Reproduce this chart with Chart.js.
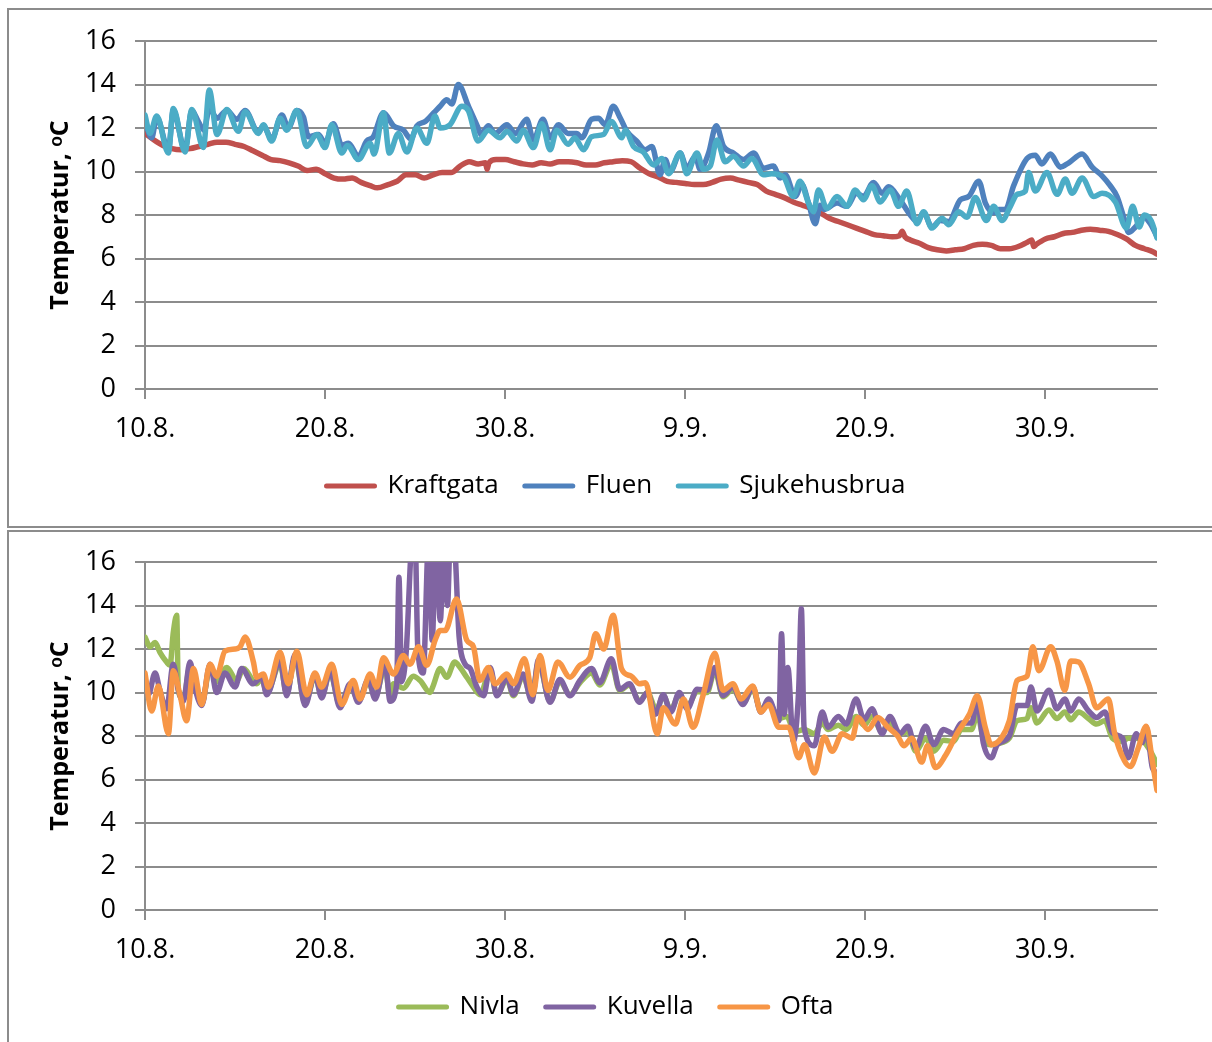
<!DOCTYPE html>
<html>
<head>
<meta charset="utf-8">
<title>Temperatur</title>
<script src="https://cdn.jsdelivr.net/npm/chart.js@4.4.1/dist/chart.umd.min.js"></script>
<style>
	html, body { margin: 0; background: #fff; overflow: hidden; width: 1212px; height: 1042px; }
	.frame { position: absolute; border: 2px solid #8c8c8c; }
	#frameTop { left: 7px; top: 8px; width: 1240px; height: 516px; }
	#frameBottom { left: 7px; top: 530px; width: 1240px; height: 600px; }
	canvas { position: absolute; left: 0; }
	#chartTop { top: 0; }
	#chartBottom { top: 521px; }
</style>
</head>
<body>
<div class="frame" id="frameTop"></div>
<div class="frame" id="frameBottom"></div>
<canvas id="chartTop" width="1232" height="509"></canvas>
<canvas id="chartBottom" width="1232" height="509"></canvas>
<script>
(function () {
	'use strict';

	// x = days after 10.8., labels placed every 10 days
	var tickDays = [0, 10, 20, 30, 40, 50];
	var tickDates = ['10.8.', '20.8.', '30.8.', '9.9.', '20.9.', '30.9.'];
	var seriesNamesTop = ['Kraftgata', 'Fluen', 'Sjukehusbrua'];
	var seriesNamesBottom = ['Nivla', 'Kuvella', 'Ofta'];

	// [day, temperature]
	var kraftgata = [
		[0, 11.75], [0.5, 11.45], [1, 11.2], [1.5, 11.05], [2, 11.0], [2.5, 11.05], [3, 11.15], [3.5, 11.25],
		[4, 11.35], [4.5, 11.35], [5, 11.25], [5.5, 11.15], [6, 10.95], [6.5, 10.75], [7, 10.55], [7.5, 10.5],
		[8, 10.4], [8.5, 10.25], [9, 10.05], [9.5, 10.1], [10, 9.9], [10.5, 9.7], [11, 9.65], [11.5, 9.7],
		[12, 9.5], [12.5, 9.35], [12.9, 9.25], [13.5, 9.4], [14, 9.55], [14.5, 9.85], [15, 9.85], [15.5, 9.7],
		[16, 9.85], [16.5, 9.95], [17, 9.95], [17.5, 10.25], [18, 10.45], [18.5, 10.35], [18.9, 10.4], [19.0, 10.1],
		[19.1, 10.4], [19.5, 10.55], [20, 10.55], [20.5, 10.45], [21, 10.35], [21.5, 10.3], [22, 10.4], [22.5, 10.35],
		[23, 10.45], [23.5, 10.45], [24, 10.4], [24.5, 10.3], [25, 10.3], [25.5, 10.4], [26, 10.45], [26.5, 10.5],
		[27, 10.45], [27.5, 10.15], [28, 9.9], [28.5, 9.75], [29, 9.55], [29.5, 9.5], [30, 9.45], [30.5, 9.4],
		[31, 9.4], [31.5, 9.5], [32, 9.65], [32.5, 9.7], [33, 9.6], [33.5, 9.5], [34, 9.4], [34.5, 9.1],
		[35, 8.95], [35.5, 8.8], [36, 8.6], [36.5, 8.45], [37, 8.3], [37.5, 8.1], [38, 7.85], [38.5, 7.7],
		[39, 7.55], [39.5, 7.4], [40, 7.25], [40.5, 7.1], [41, 7.05], [41.5, 7.0], [41.9, 7.05], [42.05, 7.25],
		[42.2, 7.0], [42.5, 6.85], [43, 6.7], [43.5, 6.5], [44, 6.4], [44.5, 6.35], [45, 6.4], [45.5, 6.45],
		[46, 6.6], [46.5, 6.65], [47, 6.6], [47.5, 6.45], [48, 6.45], [48.5, 6.55], [49, 6.75], [49.25, 6.85],
		[49.35, 6.55], [49.5, 6.65], [50, 6.9], [50.5, 7.0], [51, 7.15], [51.5, 7.2], [52, 7.3], [52.5, 7.35],
		[53, 7.3], [53.5, 7.25], [54, 7.1], [54.5, 6.9], [55, 6.6], [55.5, 6.45], [56, 6.3], [56.2, 6.2]
	];

	var fluen = [
		[0, 12.3], [0.37, 11.55], [0.65, 12.5], [1.3, 11.0], [1.57, 12.8], [2.22, 11.0], [2.6, 12.8], [2.96, 12.3],
		[3.28, 11.9], [3.57, 12.9], [4.0, 12.45], [4.54, 12.8], [5.1, 12.4], [5.56, 12.8], [6.3, 11.8], [6.57, 12.1],
		[7.04, 11.5], [7.6, 12.6], [7.96, 12.0], [8.43, 12.8], [8.8, 12.5], [9.07, 11.6], [9.63, 11.7], [10.0, 11.3],
		[10.46, 12.2], [10.93, 11.2], [11.3, 11.3], [11.85, 10.7], [12.31, 11.4], [12.68, 11.6], [13.24, 12.7], [13.8, 12.1],
		[14.35, 11.9], [14.76, 11.5], [15.1, 12.1], [15.56, 12.3], [16.04, 12.7], [16.39, 13.0], [16.76, 13.3], [17.04, 13.1],
		[17.4, 14.0], [17.96, 13.0], [18.5, 12.0], [18.65, 11.7], [19.07, 12.1], [19.44, 11.75], [20.1, 12.15], [20.56, 11.75],
		[21.2, 12.4], [21.57, 11.45], [22.1, 12.4], [22.5, 11.55], [22.96, 12.15], [23.5, 11.75], [23.98, 11.75], [24.26, 11.55],
		[24.8, 12.4], [25.18, 12.45], [25.56, 12.15], [26.0, 13.0], [26.4, 12.45], [26.76, 11.85], [27.3, 11.4], [27.78, 11.0],
		[28.15, 11.15], [28.6, 9.85], [28.89, 10.55], [29.17, 10.0], [29.72, 10.85], [30.09, 10.15], [30.56, 10.7], [30.83, 10.1],
		[31.3, 10.85], [31.72, 12.1], [32.13, 11.15], [32.68, 10.85], [33.24, 10.55], [33.8, 10.85], [34.35, 10.15], [34.9, 10.25],
		[35.28, 9.7], [35.56, 9.85], [36.11, 8.85], [36.48, 9.4], [36.85, 8.55], [37.22, 7.6], [37.5, 8.45], [37.7, 8.25],
		[38.43, 8.55], [38.98, 8.4], [39.5, 9.0], [39.9, 8.85], [40.46, 9.5], [40.93, 9.0], [41.3, 9.3], [41.85, 8.8],
		[42.5, 8.0], [42.87, 7.7], [43.24, 8.1], [43.7, 7.45], [44.17, 7.75], [44.63, 7.7], [45.28, 8.7], [45.74, 8.85],
		[46.3, 9.55], [46.67, 8.55], [47.13, 8.1], [47.41, 8.25], [47.78, 8.25], [48.24, 9.35], [48.98, 10.6], [49.44, 10.75],
		[49.8, 10.35], [50.28, 10.8], [50.83, 10.2], [51.3, 10.4], [52.04, 10.8], [52.6, 10.2], [53.15, 9.8], [53.6, 9.35],
		[53.98, 8.85], [54.35, 7.9], [54.63, 7.2], [55.0, 7.45], [55.46, 7.9], [55.83, 7.6], [56.2, 7.0]
	];

	var sjukehusbrua = [
		[0, 12.6], [0.28, 11.75], [0.65, 12.55], [1.3, 10.85], [1.57, 12.9], [2.22, 10.9], [2.6, 12.85], [3.24, 11.1],
		[3.57, 13.75], [4.0, 11.7], [4.54, 12.85], [5.19, 11.85], [5.56, 12.75], [6.3, 11.75], [6.57, 12.15], [7.04, 11.4],
		[7.5, 12.45], [7.87, 11.9], [8.43, 12.8], [8.98, 11.15], [9.54, 11.7], [10.0, 11.1], [10.37, 12.15], [10.93, 10.85],
		[11.24, 11.2], [11.85, 10.55], [12.5, 11.3], [12.72, 10.8], [13.24, 12.7], [13.57, 10.85], [14.07, 11.75], [14.54, 10.9],
		[15.1, 12.0], [15.65, 11.3], [16.1, 12.55], [16.4, 12.0], [16.94, 12.15], [17.6, 13.0], [17.96, 12.8], [18.5, 11.4],
		[19.07, 11.9], [19.72, 11.55], [20.1, 11.85], [20.65, 11.4], [21.0, 11.9], [21.57, 11.1], [22.04, 12.2], [22.5, 11.0],
		[22.87, 11.9], [23.5, 11.25], [23.87, 11.55], [24.35, 11.0], [24.8, 11.6], [25.46, 11.7], [25.9, 12.3], [26.48, 11.55],
		[26.67, 11.9], [27.13, 11.15], [27.67, 10.9], [28.24, 10.3], [28.7, 10.6], [29.07, 9.9], [29.72, 10.85], [30.09, 9.9],
		[30.65, 10.85], [31.02, 10.1], [31.39, 10.25], [31.76, 11.45], [32.22, 10.45], [32.68, 10.7], [33.24, 10.25], [33.7, 10.6],
		[34.35, 9.85], [34.8, 9.9], [35.46, 9.75], [36.0, 8.85], [36.37, 9.55], [36.85, 8.55], [37.13, 8.15], [37.4, 9.15],
		[37.87, 8.3], [38.43, 8.85], [38.98, 8.4], [39.44, 9.15], [39.9, 8.7], [40.37, 9.35], [40.83, 8.6], [41.39, 9.15],
		[41.85, 8.4], [42.3, 9.1], [42.87, 7.6], [43.24, 8.15], [43.7, 7.4], [44.26, 7.85], [44.63, 7.55], [45.19, 8.15],
		[45.65, 7.9], [46.11, 8.8], [46.72, 7.75], [47.13, 8.4], [47.59, 7.75], [48.06, 8.4], [48.43, 8.95], [48.89, 9.1],
		[49.07, 9.95], [49.44, 9.1], [50.09, 9.95], [50.65, 8.95], [51.11, 9.65], [51.48, 9.0], [52.04, 9.7], [52.69, 8.85],
		[53.15, 9.0], [53.89, 8.6], [54.5, 7.4], [54.85, 8.4], [55.22, 7.45], [55.5, 8.0], [55.87, 7.75], [56.2, 6.95]
	];

	var nivla = [
		[0, 12.55], [0.28, 12.1], [0.56, 12.3], [0.83, 11.85], [1.2, 11.4], [1.39, 11.25], [1.57, 12.75], [1.76, 13.55],
		[1.85, 10.1], [2.13, 9.7], [2.5, 11.2], [2.78, 10.3], [3.15, 9.5], [3.61, 11.1], [3.98, 10.5], [4.54, 11.15],
		[5.1, 10.55], [5.46, 11.1], [6.2, 10.4], [6.48, 10.65], [6.76, 10.0], [7.5, 11.3], [7.87, 9.95], [8.33, 11.6],
		[8.89, 9.5], [9.44, 10.75], [9.81, 9.85], [10.28, 10.9], [10.83, 9.4], [11.39, 10.3], [11.85, 9.65], [12.4, 10.5],
		[12.78, 9.8], [13.33, 11.2], [13.61, 9.8], [13.8, 10.4], [14.35, 10.2], [14.9, 10.75], [15.28, 10.55], [15.83, 10.0],
		[16.0, 10.3], [16.39, 11.1], [16.76, 10.7], [17.2, 11.4], [17.5, 11.15], [17.87, 10.7], [18.24, 10.25], [18.6, 9.9],
		[19.17, 11.0], [19.54, 9.9], [20.1, 10.6], [20.46, 9.85], [21.0, 10.75], [21.48, 9.7], [21.85, 11.4], [22.49, 9.6],
		[23.04, 10.5], [23.6, 9.9], [24.15, 10.45], [24.8, 10.9], [25.25, 10.35], [25.9, 11.3], [26.36, 10.1], [26.9, 10.35],
		[27.46, 9.6], [27.9, 10.0], [28.4, 9.2], [28.78, 9.85], [29.2, 9.2], [29.67, 9.9], [30.11, 9.35], [30.66, 10.05],
		[31.21, 10.0], [31.65, 11.0], [32.1, 9.8], [32.65, 10.15], [33.2, 9.5], [33.75, 10.15], [34.2, 9.2], [34.63, 9.6],
		[35.2, 8.8], [35.64, 8.9], [36.07, 8.2], [36.62, 8.3], [37.17, 8.1], [37.61, 8.6], [37.94, 8.3], [38.5, 8.5],
		[38.94, 8.3], [39.49, 8.9], [39.93, 8.5], [40.37, 8.9], [40.93, 8.2], [41.37, 8.6], [41.92, 8.1], [42.36, 8.2],
		[42.8, 7.3], [43.35, 7.9], [43.8, 7.3], [44.35, 7.8], [44.9, 7.75], [45.34, 8.3], [45.9, 8.3], [46.22, 9.0],
		[46.55, 7.9], [47.0, 7.6], [47.33, 7.65], [48.0, 7.9], [48.43, 8.7], [48.98, 8.8], [49.2, 9.3], [49.53, 8.6],
		[50.2, 9.2], [50.64, 8.8], [51.08, 9.1], [51.41, 8.75], [51.85, 9.1], [52.4, 8.8], [52.85, 8.55], [53.3, 8.7],
		[53.73, 7.9], [54.28, 7.75], [54.6, 7.9], [55.05, 7.9], [55.38, 7.8], [55.6, 7.6], [55.94, 7.15], [56.2, 6.7]
	];

	var kuvella = [
		[0, 10.4], [0.19, 9.9], [0.56, 10.9], [0.83, 10.1], [1.2, 9.25], [1.57, 11.3], [1.85, 10.1], [2.13, 9.6],
		[2.5, 11.4], [2.78, 10.2], [3.15, 9.4], [3.61, 11.3], [3.98, 10.0], [4.44, 10.9], [5.0, 10.25], [5.37, 11.1],
		[6.0, 10.4], [6.48, 10.7], [6.76, 9.9], [7.5, 11.45], [7.87, 9.85], [8.33, 11.75], [8.89, 9.4], [9.44, 10.85],
		[9.81, 9.75], [10.28, 11.0], [10.83, 9.3], [11.39, 10.4], [11.85, 9.55], [12.4, 10.6], [12.78, 9.7], [13.33, 11.4],
		[13.61, 9.6], [13.98, 10.4], [14.1, 15.3], [14.25, 10.5], [14.5, 11.8], [14.85, 17], [15.0, 17], [15.15, 12.0],
		[15.45, 10.9], [15.75, 17], [15.95, 12.4], [16.15, 17], [16.4, 13.3], [16.6, 17], [16.8, 14.0], [16.95, 17],
		[17.15, 17], [17.45, 12.5], [17.78, 11.3], [18.06, 11.1], [18.43, 10.25], [18.8, 9.85], [19.17, 11.15], [19.54, 9.85],
		[20.1, 10.7], [20.46, 9.9], [21.0, 10.85], [21.48, 9.6], [21.85, 11.5], [22.49, 9.55], [23.04, 10.6], [23.6, 9.85],
		[24.15, 10.55], [24.8, 11.1], [25.25, 10.45], [25.9, 11.55], [26.36, 10.15], [26.9, 10.4], [27.46, 9.55], [27.9, 10.0],
		[28.35, 9.0], [28.78, 9.9], [29.2, 9.1], [29.67, 10.0], [30.11, 9.25], [30.66, 10.15], [31.21, 10.1], [31.65, 11.15],
		[32.1, 9.85], [32.65, 10.25], [33.2, 9.45], [33.75, 10.25], [34.2, 9.1], [34.63, 9.7], [35.2, 8.7], [35.35, 12.7],
		[35.5, 9.0], [35.7, 11.15], [36.0, 7.75], [36.3, 10.1], [36.45, 13.85], [36.6, 8.4], [37.17, 7.55], [37.61, 9.1],
		[37.94, 8.4], [38.5, 8.9], [38.94, 8.55], [39.49, 9.7], [39.93, 8.75], [40.37, 9.25], [40.93, 8.1], [41.37, 8.9],
		[41.92, 8.1], [42.36, 8.45], [42.8, 7.45], [43.35, 8.45], [43.8, 7.6], [44.35, 8.3], [44.9, 8.1], [45.34, 8.6],
		[45.9, 8.6], [46.22, 9.6], [46.55, 7.7], [47.0, 7.0], [47.33, 7.6], [48.0, 8.0], [48.43, 9.4], [48.98, 9.4],
		[49.2, 10.25], [49.53, 9.15], [50.2, 10.1], [50.64, 9.25], [51.08, 9.7], [51.41, 9.15], [51.85, 9.7], [52.4, 9.15],
		[52.85, 8.85], [53.3, 9.1], [53.73, 8.15], [54.28, 7.9], [54.6, 7.0], [55.05, 8.1], [55.38, 7.7], [55.6, 8.4],
		[55.94, 6.55], [56.2, 6.3]
	];

	var ofta = [
		[0, 10.9], [0.37, 9.15], [0.74, 10.3], [1.3, 8.1], [1.57, 11.0], [1.94, 9.9], [2.31, 8.7], [2.69, 11.1],
		[3.15, 9.45], [3.61, 11.3], [3.98, 10.75], [4.44, 11.9], [5.0, 12.0], [5.28, 12.1], [5.56, 12.55], [6.02, 11.4],
		[6.2, 10.7], [6.57, 10.85], [6.85, 10.25], [7.5, 11.85], [7.96, 10.4], [8.43, 11.9], [8.98, 9.9], [9.44, 10.9],
		[9.81, 10.25], [10.37, 11.3], [10.93, 9.45], [11.57, 10.55], [11.94, 9.7], [12.5, 10.85], [12.87, 10.25], [13.24, 11.6],
		[13.8, 10.85], [14.35, 11.7], [14.72, 11.3], [15.19, 12.1], [15.65, 11.25], [16.11, 12.4], [16.39, 12.85], [16.67, 12.85],
		[17.3, 14.3], [17.87, 12.4], [18.24, 12.1], [18.6, 10.55], [19.07, 11.15], [19.44, 10.4], [20.1, 10.85], [20.46, 10.4],
		[21.07, 11.55], [21.54, 9.9], [21.94, 11.7], [22.38, 10.1], [22.93, 11.4], [23.6, 10.7], [24.15, 11.25], [24.7, 11.6],
		[25.03, 12.7], [25.47, 12.0], [26.0, 13.55], [26.46, 11.1], [27.0, 10.75], [27.46, 10.4], [27.79, 10.45], [28.45, 8.1],
		[28.78, 9.3], [29.45, 8.55], [29.9, 9.7], [30.44, 8.4], [31.0, 9.9], [31.65, 11.8], [32.1, 10.1], [32.65, 10.4],
		[33.1, 9.7], [33.75, 10.3], [34.2, 9.1], [34.63, 9.45], [35.2, 8.4], [35.74, 8.4], [36.3, 7.0], [36.62, 7.6],
		[37.17, 6.3], [37.72, 7.95], [38.16, 7.3], [38.72, 8.1], [39.27, 7.9], [39.6, 8.85], [40.15, 8.3], [40.7, 8.85],
		[41.26, 8.4], [41.8, 8.0], [42.14, 7.55], [42.58, 7.9], [43.13, 6.8], [43.46, 7.55], [43.9, 6.55], [44.45, 7.1],
		[45.12, 8.15], [45.78, 9.0], [46.22, 9.85], [46.66, 8.4], [47.0, 7.6], [47.55, 7.9], [48.0, 8.7], [48.43, 10.55],
		[48.98, 10.75], [49.3, 12.1], [49.64, 11.0], [50.3, 12.1], [50.64, 11.45], [51.08, 10.1], [51.41, 11.45], [51.85, 11.4],
		[52.4, 10.4], [52.85, 9.3], [53.5, 9.7], [53.84, 8.15], [54.4, 6.85], [54.72, 6.6], [55.16, 7.45], [55.6, 8.45],
		[55.94, 6.85], [56.2, 5.5]
	];

	var GRID = '#8c8c8c';
	var FONT = "'Open Sans', sans-serif";

	Chart.defaults.color = '#000';
	Chart.defaults.font.family = FONT;

	function dataset(label, color, points, order) {
		return {
			label: label,
			data: points,
			borderColor: color,
			backgroundColor: color,
			borderWidth: 5.5,
			borderJoinStyle: 'round',
			borderCapStyle: 'round',
			cubicInterpolationMode: 'monotone',
			pointRadius: 0,
			pointHoverRadius: 0,
			pointStyle: 'line',
			order: order
		};
	}

	function legendLabels(chart) {
		return Chart.defaults.plugins.legend.labels.generateLabels(chart).map(function (item) {
			item.lineWidth = 5;
			item.lineCap = 'round';
			return item;
		});
	}

	function createChart(id, datasets) {
		var el = document.getElementById(id);
		if (!el) return null;
		return new Chart(el, {
			type: 'line',
			data: { datasets: datasets },
			options: {
				responsive: false,
				animation: false,
				layout: { padding: { top: 41, left: 0, right: 0, bottom: 0 } },
				plugins: {
					tooltip: { enabled: false },
					legend: {
						position: 'bottom',
						labels: {
							usePointStyle: true,
							pointStyleWidth: 48,
							padding: 26,
							font: { size: 26 },
							generateLabels: legendLabels,
							sort: function (a, b) { return a.datasetIndex - b.datasetIndex; }
						}
					}
				},
				scales: {
					x: {
						type: 'linear',
						min: 0,
						max: 56.2,
						afterBuildTicks: function (scale) {
							scale.ticks = tickDays.map(function (v) { return { value: v }; });
						},
						afterFit: function (scale) { scale.height = 58; },
						ticks: {
							autoSkip: false,
							maxRotation: 0,
							padding: 14,
							font: { size: 27 },
							callback: function (value) { return tickDates[tickDays.indexOf(value)]; }
						},
						grid: { drawOnChartArea: false, tickLength: 10, color: GRID, lineWidth: 2 },
						border: { color: GRID, width: 2 }
					},
					y: {
						min: 0,
						max: 16,
						afterFit: function (scale) { scale.width = 145; },
						ticks: { stepSize: 2, padding: 19, font: { size: 27 } },
						grid: { color: GRID, lineWidth: 2, tickLength: 10 },
						border: { color: GRID, width: 2 },
						title: {
							display: true,
							text: 'Temperatur, ᵒC',
							font: { size: 25, weight: 'bold' },
							padding: { top: 46 }
						}
					},
					yRight: {
						position: 'right',
						afterFit: function (scale) { scale.width = 75; },
						ticks: { display: false },
						grid: { display: false },
						border: { display: false }
					}
				}
			}
		});
	}

	createChart('chartTop', [
		dataset(seriesNamesTop[0], '#C0504D', kraftgata, 2),
		dataset(seriesNamesTop[1], '#4F81BD', fluen, 1),
		dataset(seriesNamesTop[2], '#4BACC6', sjukehusbrua, 0)
	]);

	createChart('chartBottom', [
		dataset(seriesNamesBottom[0], '#9BBB59', nivla, 2),
		dataset(seriesNamesBottom[1], '#8064A2', kuvella, 1),
		dataset(seriesNamesBottom[2], '#F79646', ofta, 0)
	]);
})();
</script>
</body>
</html>
